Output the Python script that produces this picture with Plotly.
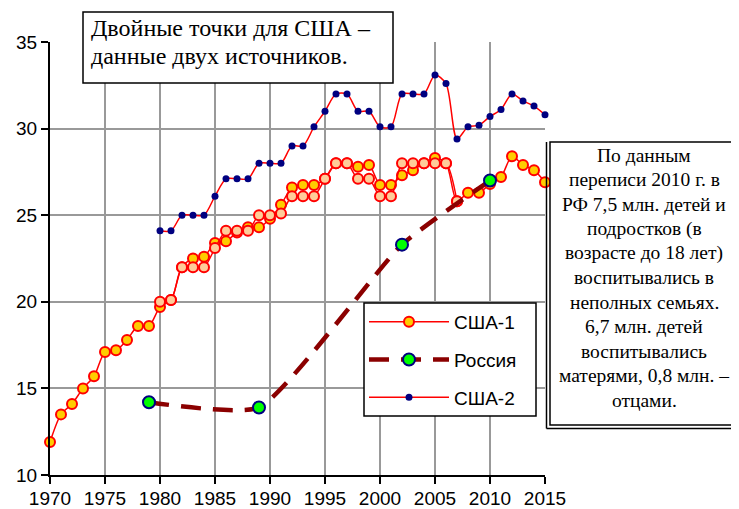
import plotly.graph_objects as go

# ---- data ----
years_usa1 = list(range(1970, 2016))
usa1 = [11.9, 13.5, 14.1, 15.0, 15.7, 17.1, 17.2, 17.8, 18.6, 18.6,
        19.7, 20.1, 22.0, 22.5, 22.6, 23.4, 23.5, 24.0, 24.3, 24.3,
        24.8, 25.6, 26.6, 26.75, 26.75, 27.1, 28.0, 28.0, 27.8, 27.9,
        26.75, 26.75, 27.3, 27.6, 28.0, 28.3, 28.0, 25.8, 26.3, 26.3,
        26.8, 27.2, 28.4, 27.9, 27.6, 26.9]

years_usa1b = list(range(1980, 2008))
usa1b = [20.0, 20.1, 22.0, 22.0, 22.0, 23.1, 24.1, 24.1, 24.1, 25.0,
         25.0, 25.1, 26.1, 26.1, 26.1, 27.1, 28.0, 28.0, 27.1, 27.1,
         26.1, 26.1, 28.0, 28.0, 28.0, 28.0, 28.0, 25.8]

years_usa2 = list(range(1980, 2016))
usa2 = [24.1, 24.1, 25.0, 25.0, 25.0, 26.1, 27.1, 27.1, 27.1, 28.0,
        28.0, 28.0, 29.0, 29.0, 30.1, 31.0, 32.0, 32.0, 31.0, 31.0,
        30.1, 30.1, 32.0, 32.0, 32.0, 33.1, 32.6, 29.4, 30.1, 30.2,
        30.7, 31.1, 32.0, 31.6, 31.3, 30.8]

years_russia = [1979, 1989, 2002, 2010]
russia = [14.2, 13.9, 23.3, 27.0]

x_ticks = list(range(1970, 2016, 5))
y_ticks = list(range(10, 36, 5))

names = ["США-1", "Россия", "США-2"]
note_top_lines = ["Двойные точки для США –", "данные двух источников."]
note_right_lines = ["По данным", "переписи 2010 г. в", "РФ 7,5 млн. детей и", "подростков (в",
                    "возрасте до 18 лет)", "воспитывались в", "неполных семьях.", "6,7 млн. детей",
                    "воспитывались", "матерями, 0,8 млн. –", "отцами."]

# ---- figure geometry (page body has an 8px margin, so the figure is offset by 8px) ----
OFF = 8
W, H = 739 - OFF, 509 - OFF
L, R, T, B = 50 - OFF, 194, 42 - OFF, 34
PW, PH = W - L - R, H - T - B


def px(x):
    return (x - OFF - L) / PW


def py(y):
    return (H - B - (y - OFF)) / PH


fig = go.Figure()

fig.add_trace(go.Scatter(
    x=years_usa1, y=usa1, name=names[0], mode="lines+markers",
    line=dict(color="#FF0000", width=1.5, shape="spline", smoothing=0.8),
    marker=dict(size=10, color="#FFCC00", line=dict(color="#FF0000", width=2)),
    legendgroup="a", cliponaxis=False))

fig.add_trace(go.Scatter(
    x=years_usa1b, y=usa1b, name=names[0], mode="lines+markers", showlegend=False,
    line=dict(color="#FF0000", width=1.5, shape="spline", smoothing=0.8),
    marker=dict(size=10, color="#FFCC99", line=dict(color="#FF0000", width=2)),
    legendgroup="a", cliponaxis=False))

fig.add_trace(go.Scatter(
    x=years_russia, y=russia, name=names[1], mode="lines+markers",
    line=dict(color="#8B0000", width=4.5, shape="spline", smoothing=0.5, dash="20px,12px"),
    marker=dict(size=12, color="#00FF00", line=dict(color="#000080", width=2)),
    legendgroup="b", cliponaxis=False))

fig.add_trace(go.Scatter(
    x=years_usa2, y=usa2, name=names[2], mode="lines+markers",
    line=dict(color="#FF0000", width=1.5, shape="spline", smoothing=0.8),
    marker=dict(size=7, color="#000080"),
    legendgroup="c", cliponaxis=False))

axis_font = dict(family="Arial, Liberation Sans", size=19, color="black")

fig.update_xaxes(range=[1970, 2015], tickvals=x_ticks, ticktext=[str(v) for v in x_ticks],
                 showgrid=True, gridcolor="#999999", gridwidth=1.5,
                 showline=True, linecolor="black", linewidth=2,
                 ticks="outside", ticklen=7, tickwidth=1.5, tickcolor="black",
                 tickfont=axis_font, zeroline=False, automargin=False, ticklabelstandoff=-2)
fig.update_yaxes(range=[10, 35], tickvals=y_ticks, ticktext=[str(v) for v in y_ticks],
                 showgrid=True, gridcolor="#999999", gridwidth=1.5,
                 showline=True, linecolor="black", linewidth=2,
                 ticks="outside", ticklen=7, tickwidth=1.5, tickcolor="black",
                 tickfont=axis_font, zeroline=False, automargin=False)

shapes = [
    # top note box
    dict(type="rect", xref="paper", yref="paper", x0=px(83), x1=px(393), y0=py(83), y1=py(12),
         line=dict(color="black", width=1.5), fillcolor="white", layer="above"),
    # right note box (double left/bottom edge)
    dict(type="rect", xref="paper", yref="paper", x0=px(550), x1=px(760), y0=py(425), y1=py(142),
         line=dict(color="black", width=1.5), fillcolor="white", layer="above"),
    dict(type="line", xref="paper", yref="paper", x0=px(546.5), x1=px(546.5), y0=py(428.5), y1=py(142),
         line=dict(color="black", width=1.5), layer="above"),
    dict(type="line", xref="paper", yref="paper", x0=px(546.5), x1=px(760), y0=py(428.5), y1=py(428.5),
         line=dict(color="black", width=1.5), layer="above"),
    # legend frame
    dict(type="rect", xref="paper", yref="paper", x0=px(364), x1=px(536), y0=py(416), y1=py(303),
         line=dict(color="black", width=1.5), fillcolor="white", layer="above"),
]

serif = "Liberation Serif, Times New Roman"
annotations = []
for i, line in enumerate(note_top_lines):
    annotations.append(dict(text=line, xref="paper", yref="paper", x=px(89), y=py(28 + 28 * i),
                            xanchor="left", yanchor="middle", align="left", showarrow=False,
                            font=dict(family=serif, size=24, color="black")))
for i, line in enumerate(note_right_lines):
    annotations.append(dict(text=line, xref="paper", yref="paper", x=px(644), y=py(155 + 24.5 * i),
                            xanchor="center", yanchor="middle", align="center", showarrow=False,
                            font=dict(family=serif, size=19.5, color="black")))

fig.update_layout(
    width=W, height=H,
    margin=dict(l=L, r=R, t=T, b=B, pad=0, autoexpand=False),
    paper_bgcolor="white", plot_bgcolor="white",
    shapes=shapes, annotations=annotations,
    legend=dict(x=px(364), y=py(303), xanchor="left", yanchor="top",
                bgcolor="rgba(0,0,0,0)", borderwidth=0,
                font=dict(family="Arial, Liberation Sans", size=19, color="black"),
                itemwidth=80, traceorder="grouped", tracegroupgap=10),
    showlegend=True,
)

fig.write_html("out.html")
